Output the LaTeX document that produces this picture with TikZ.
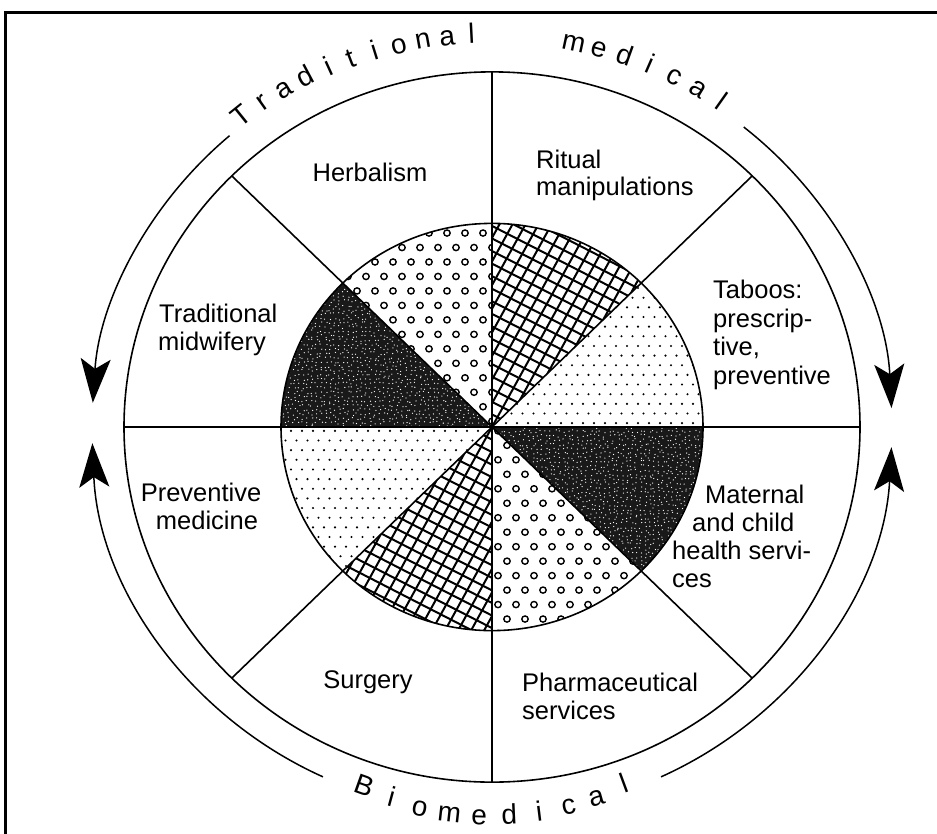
\documentclass[tikz,border=0pt]{standalone}
\usepackage{fontspec}
\setmainfont{Liberation Sans}
\usetikzlibrary{arrows.meta}
\begin{document}
\begin{tikzpicture}[x=1pt,y=-1pt,
  lbl/.style={font=\fontsize{25.5}{28}\selectfont, inner sep=0pt},
  arcl/.style={font=\fontsize{28}{28}\selectfont, inner sep=0pt},
  ring/.style={line width=1.6pt},
  hatchline/.style={line width=2pt},
  harrow/.style={line width=1.5pt, -{Stealth[length=44pt,width=30pt,inset=10pt]}}]
\useasboundingbox (0,0) rectangle (937,833);
\draw[line width=2.8pt] (5.5,840) -- (5.5,12.5) -- (945,12.5);
\begin{scope}[shift={(492,427)}, yscale=-0.965]
  % crosshatch sectors
  \foreach \a in {45,225} {
    \begin{scope}
      \clip (0,0) -- (\a:211) arc[start angle=\a,end angle=\a+45,radius=211] -- cycle;
      \foreach \k in {-30,...,30} {
        \draw[hatchline] ({-\k*11.5*sin(62)-300*cos(62)},{\k*11.5*cos(62)-300*sin(62)}) -- ({-\k*11.5*sin(62)+300*cos(62)},{\k*11.5*cos(62)+300*sin(62)});
        \draw[hatchline] ({\k*11.5*sin(28)-300*cos(28)},{\k*11.5*cos(28)+300*sin(28)}) -- ({\k*11.5*sin(28)+300*cos(28)},{\k*11.5*cos(28)-300*sin(28)});
      }
    \end{scope}
  }
  % ring dots: Herbalism
  \begin{scope}
    \clip (0,0) -- (90:211) arc[start angle=90,end angle=135,radius=211] -- cycle;
    \foreach \j in {0,...,15} \foreach \i in {-10,...,1} {
      \pgfmathsetmacro\xx{\i*18+mod(\j,2)*9}
      \draw[line width=1.4pt] (\xx,\j*15+6) circle[radius=3.2];
    }
  \end{scope}
  % ring dots: Pharmaceutical
  \begin{scope}
    \clip (0,0) -- (270:211) arc[start angle=270,end angle=315,radius=211] -- cycle;
    \foreach \j in {0,...,15} \foreach \i in {-1,...,10} {
      \pgfmathsetmacro\xx{\i*18+mod(\j,2)*9+6}
      \draw[line width=1.4pt] (\xx,-\j*15-4) circle[radius=3.2];
    }
  \end{scope}
  % fine dots: Taboos
  \begin{scope}
    \clip (0,0) -- (0:211) arc[start angle=0,end angle=45,radius=211] -- cycle;
    \foreach \j in {0,...,15} \foreach \i in {0,...,19} {
      \pgfmathsetmacro\xx{\i*11+mod(\j,2)*5.5+3}
      \fill (\xx,\j*10+4) circle[radius=1.2];
    }
  \end{scope}
  % fine dots: Preventive medicine
  \begin{scope}
    \clip (0,0) -- (180:211) arc[start angle=180,end angle=225,radius=211] -- cycle;
    \foreach \j in {0,...,15} \foreach \i in {0,...,19} {
      \pgfmathsetmacro\xx{-\i*11-mod(\j,2)*5.5-3}
      \fill (\xx,-\j*10-4) circle[radius=1.2];
    }
  \end{scope}
  % dark sectors
  \pgfmathsetseed{7}
  \begin{scope}
    \clip (0,0) -- (135:211) arc[start angle=135,end angle=180,radius=211] -- cycle;
    \fill[black!90] (-215,-2) rectangle (2,155);
    \foreach \j in {0,...,33} \foreach \i in {-47,...,0} {
      \fill[white] ({\i*4.5+rand*1.6},{\j*4.5+rand*1.6}) circle[radius=0.65];
    }
  \end{scope}
  \begin{scope}
    \clip (0,0) -- (315:211) arc[start angle=315,end angle=360,radius=211] -- cycle;
    \fill[black!90] (-2,2) rectangle (215,-155);
    \foreach \j in {0,...,33} \foreach \i in {0,...,47} {
      \fill[white] ({\i*4.5+rand*1.6},{-\j*4.5+rand*1.6}) circle[radius=0.65];
    }
  \end{scope}
  % circles and dividing lines
  \draw[ring] (0,0) circle[radius=368];
  \draw[ring] (0,0) circle[radius=211];
  \foreach \a in {0,45,90,135} \draw[ring] (\a:368) -- (\a+180:368);
  % arrows
  \draw[harrow] (131:400) arc[start angle=131,end angle=176.4,radius=400];
  \draw[harrow] (51:400) arc[start angle=51,end angle=2.8,radius=400];
  \draw[harrow] (245:400) arc[start angle=245,end angle=182.4,radius=400];
  \draw[harrow] (295:400) arc[start angle=295,end angle=357,radius=400];
\end{scope}
% curved titles
\foreach \ch [count=\n from 0] in {T,r,a,d,i,t,i,o,n,a,l} {
  \pgfmathsetmacro\th{128.8-3.58*\n}
  \pgfmathsetmacro\rr{384+5*((\th-90)/35)^2}
  \node[arcl, anchor=base, rotate=\th-90] (tr\n) at ({492+\rr*cos(\th)},{427-\rr*sin(\th)}) {\ch};
}
\foreach \ch [count=\n from 0] in {m,e,d,i,c,a,l} {
  \pgfmathsetmacro\th{78-3.87*\n}
  \pgfmathsetmacro\rr{384+5*((\th-90)/35)^2}
  \node[arcl, anchor=base, rotate=\th-90] (md\n) at ({492+\rr*cos(\th)},{427-\rr*sin(\th)}) {\ch};
}
\foreach \ch [count=\n from 0] in {B,i,o,m,e,d,i,c,a,l} {
  \pgfmathsetmacro\th{-109.6+4.43*\n}
  \pgfmathsetmacro\rr{398-8*((\th+90)/20)^2}
  \node[arcl, anchor=base, rotate=\th+90] (bm\n) at ({492+\rr*cos(\th)},{427-\rr*sin(\th)}) {\ch};
}
% labels
\node[lbl, anchor=base] (herb) at (370,181) {Herbalism};
\node[lbl, anchor=base west] (rit1) at (536,168) {Ritual};
\node[lbl, anchor=base west] (rit2) at (536,195) {manipulations};
\node[lbl, anchor=base west] (tab1) at (713,298) {Taboos:};
\node[lbl, anchor=base west] (tab2) at (713,327) {prescrip-};
\node[lbl, anchor=base west] (tab3) at (713,355) {tive,};
\node[lbl, anchor=base west] (tab4) at (713,384) {preventive};
\node[lbl, anchor=base west] (mat1) at (705,503) {Maternal};
\node[lbl, anchor=base west] (mat2) at (692,531) {and child};
\node[lbl, anchor=base west] (mat3) at (672,559) {health servi-};
\node[lbl, anchor=base west] (mat4) at (672,587) {ces};
\node[lbl, anchor=base west] (ph1) at (522,691) {Pharmaceutical};
\node[lbl, anchor=base west] (ph2) at (522,719) {services};
\node[lbl, anchor=base] (sur) at (368,688) {Surgery};
\node[lbl, anchor=base] (pm1) at (201,501) {Preventive};
\node[lbl, anchor=base] (pm2) at (207,529) {medicine};
\node[lbl, anchor=base west] (tm1) at (159,322) {Traditional};
\node[lbl, anchor=base west] (tm2) at (158,350) {midwifery};
\end{tikzpicture}
\end{document}
